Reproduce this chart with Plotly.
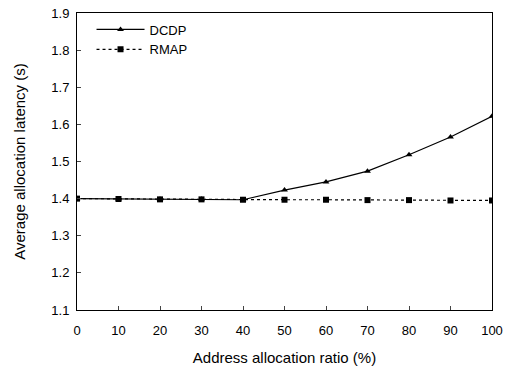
import plotly.graph_objects as go

x = [0, 10, 20, 30, 40, 50, 60, 70, 80, 90, 100]
dcdp = [1.400, 1.399, 1.398, 1.398, 1.397, 1.423, 1.445, 1.474, 1.518, 1.566, 1.622]
rmap = [1.400, 1.399, 1.398, 1.398, 1.397, 1.397, 1.397, 1.396, 1.396, 1.395, 1.395]
xticks = [0, 10, 20, 30, 40, 50, 60, 70, 80, 90, 100]
yticks = [1.1, 1.2, 1.3, 1.4, 1.5, 1.6, 1.7, 1.8, 1.9]

fig = go.Figure()
fig.add_trace(go.Scatter(x=x, y=dcdp, name="DCDP", mode="lines+markers",
                         line=dict(color="black", width=1.2),
                         marker=dict(symbol="triangle-up", size=6, color="black")))
fig.add_trace(go.Scatter(x=x, y=rmap, name="RMAP", mode="lines+markers",
                         line=dict(color="black", width=1.2, dash="dot"),
                         marker=dict(symbol="square", size=6, color="black")))

fig.update_layout(
    width=510, height=366,
    margin=dict(l=77, r=18, t=13, b=56, autoexpand=False),
    paper_bgcolor="white", plot_bgcolor="white",
    font=dict(family="Arial, Liberation Sans, sans-serif", color="black", size=13),
    legend=dict(x=0.035, y=0.995, xanchor="left", yanchor="top",
                bgcolor="rgba(0,0,0,0)", font=dict(size=13), itemwidth=48,
                tracegroupgap=0),
    showlegend=True,
)
fig.update_xaxes(range=[0, 100], tickvals=xticks, ticks="inside", ticklen=4,
                 showline=True, linecolor="black", linewidth=1, mirror=True,
                 showgrid=False, zeroline=False, automargin=False,
                 tickfont=dict(size=13), ticklabelstandoff=8,
                 title=dict(text="Address allocation ratio (%)", font=dict(size=15), standoff=20))
fig.update_yaxes(range=[1.1, 1.9], tickvals=yticks, tickformat=".1f", ticks="inside", ticklen=4,
                 showline=True, linecolor="black", linewidth=1, mirror=True,
                 showgrid=False, zeroline=False, automargin=False,
                 tickfont=dict(size=13), ticklabelstandoff=4,
                 title=dict(text="Average allocation latency (s)", font=dict(size=15), standoff=22))

fig.write_html("out.html", config={"displayModeBar": False},
               post_script="document.body.style.margin='0';")
